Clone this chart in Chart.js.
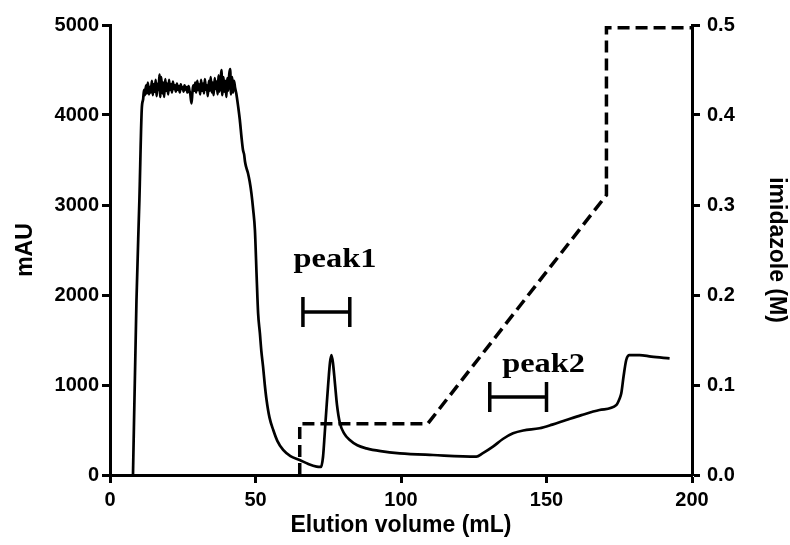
<!DOCTYPE html>
<html>
<head>
<meta charset="utf-8">
<script src="https://cdn.jsdelivr.net/npm/chart.js@4.4.1/dist/chart.umd.min.js"></script>
<style>
  body { margin: 0; background: #fff; }
  canvas { display: block; }
</style>
</head>
<body>
<canvas id="chart-area" width="790" height="545"></canvas>
<script>
// UV absorbance trace (mL, mAU)
const uvVolume = [
  7.9, 9.1, 10.1, 10.9,
  11.4, 11.7, 12.0, 12.4, 12.7, 13.0, 13.4, 13.7, 14.0, 14.4, 14.7, 15.0, 15.4, 15.7, 16.0, 16.4,
  16.7, 17.0, 17.3, 17.6, 18.0, 18.3, 18.6, 19.0, 19.3, 19.6, 20.0, 20.3, 20.6, 21.0, 21.3, 21.6,
  22.0, 22.3, 22.6, 23.0, 23.3, 23.6, 24.0, 24.3, 24.6, 25.0, 25.3, 25.6, 26.0, 26.3, 26.6, 27.0,
  27.3, 27.6, 28.0, 28.3, 28.6, 29.0, 29.3, 29.6, 30.0, 30.3, 30.6, 31.0, 31.3, 31.6, 32.0, 32.3,
  32.6, 33.0, 33.3, 33.6, 34.0, 34.3, 34.6, 35.0, 35.3, 35.6, 36.0, 36.3, 36.6, 37.0, 37.3, 37.6,
  38.0, 38.3, 38.6, 39.0, 39.3, 39.6, 40.0, 40.3, 40.6, 41.0, 41.3, 41.6, 42.0, 42.3, 42.6, 43.0,
  43.4,
  44.1, 44.6, 45.2, 45.7, 46.1, 46.4, 46.8, 47.4, 48.0,
  48.6, 49.2, 49.8, 50.4, 50.9, 51.5, 52.0, 52.6, 53.2, 53.8, 54.8, 56.1, 57.5, 59.5, 62.0, 65.2,
  68.0, 71.0, 72.5, 73.2, 73.8, 74.4, 75.0, 75.6, 76.1, 76.6, 77.3, 78.0, 79.0, 80.5, 82.4, 85.0,
  88.1, 93.0, 99.6, 111.0, 125.9, 128.0, 131.6, 135.0, 138.5, 142.0, 147.6, 152.0, 156.8, 162.0,
  168.2, 174.0, 175.0, 175.7, 176.5, 177.4, 178.5, 182.0, 186.0, 192.3
];
const uvAbsorbance = [
  0, 1944, 3056, 4056,
  4180, 4280, 4220, 4330, 4240, 4360, 4230, 4310, 4250, 4380, 4220, 4340, 4260, 4390, 4210, 4350,
  4280, 4450, 4200, 4420, 4240, 4360, 4200, 4400, 4270, 4350, 4230, 4390, 4280, 4340, 4250, 4370,
  4290, 4330, 4260, 4350, 4280, 4320, 4250, 4340, 4290, 4310, 4260, 4330, 4280, 4310, 4250, 4320,
  4270, 4230, 4130, 4240, 4330, 4270, 4360, 4250, 4380, 4280, 4340, 4230, 4390, 4270, 4350, 4240,
  4400, 4280, 4330, 4210, 4380, 4270, 4420, 4250, 4360, 4220, 4410, 4290, 4370, 4230, 4440, 4260,
  4380, 4500, 4220, 4420, 4260, 4380, 4200, 4410, 4270, 4460, 4510, 4230, 4420, 4250, 4380, 4300,
  4240,
  4080, 3950, 3750, 3611, 3560, 3480, 3420, 3356, 3260,
  3130, 2950, 2722, 2200, 1796, 1578, 1380, 1204, 1000, 833, 640, 500, 380, 278, 210, 167,
  125, 93, 90, 200, 467, 750, 1019, 1250, 1333, 1250, 1019, 780, 578, 460, 389, 330,
  296, 265, 241, 222, 204, 240, 315, 400, 463, 495, 519, 560, 611, 665,
  722, 778, 840, 907, 1100, 1278, 1333, 1333, 1315, 1296
];

// imidazole step gradient (mL, M)
const gradientVolume = [65.2, 65.2, 109.2, 170.6, 170.6, 200];
const gradientImidazole = [0, 0.057, 0.057, 0.311, 0.497, 0.497];

// collected fractions: [from mL, to mL, level mAU]
const peak1Range = [66.3, 82.4, 1811];
const peak2Range = [130.5, 150.0, 867];
const peakLabels = ['peak1', 'peak2'];
const peakLabelAt = [[77.3, 2311], [149.0, 1144]];

const xTicks = [0, 50, 100, 150, 200];
const mauTicks = [0, 1000, 2000, 3000, 4000, 5000];
const imidazoleTicks = [0, 0.1, 0.2, 0.3, 0.4, 0.5];

const toPoints = (xs, ys) => xs.map((x, i) => ({x: x, y: ys[i]}));

// a fraction bar with end caps, drawn as one open path
const capHalf = 167;
const bracket = r => [
  {x: r[0], y: r[2] - capHalf}, {x: r[0], y: r[2] + capHalf}, {x: r[0], y: r[2]},
  {x: r[1], y: r[2]}, {x: r[1], y: r[2] + capHalf}, {x: r[1], y: r[2] - capHalf}
];

const tickFont = {family: 'Liberation Sans, Arial', size: 20, weight: 'bold'};
const titleFont = {family: 'Liberation Sans, Arial', size: 23, weight: 'bold'};

const axisCommon = {
  border: {display: true, color: '#000', width: 3},
  grid: {display: true, drawOnChartArea: false, drawTicks: true, tickLength: 8, tickWidth: 3, tickColor: '#000'},
};

const peakText = {
  id: 'peakText',
  afterDatasetsDraw(chart) {
    const ctx = chart.ctx;
    const xs = chart.scales.x, ys = chart.scales.y;
    ctx.save();
    ctx.fillStyle = '#000';
    ctx.font = 'bold 27px "Liberation Serif", "Times New Roman", serif';
    ctx.textAlign = 'center';
    ctx.textBaseline = 'alphabetic';
    peakLabels.forEach((t, i) => {
      const px = xs.getPixelForValue(peakLabelAt[i][0]);
      const py = ys.getPixelForValue(peakLabelAt[i][1]);
      ctx.save();
      ctx.translate(px, py);
      ctx.scale(1.2, 1);
      ctx.fillText(t, 0, 0);
      ctx.restore();
    });
    ctx.restore();
  }
};

window.onload = function() {
  let ctx = document.getElementById('chart-area').getContext('2d');
  new Chart(ctx, {
    type: 'line',
    data: {
      datasets: [
        {
          data: toPoints(uvVolume, uvAbsorbance),
          yAxisID: 'y',
          borderColor: '#000',
          borderWidth: 2.7,
          pointRadius: 0,
          cubicInterpolationMode: 'monotone'
        },
        {
          data: toPoints(gradientVolume, gradientImidazole),
          yAxisID: 'y1',
          borderColor: '#000',
          borderWidth: 3.5,
          borderDash: [12, 6],
          pointRadius: 0,
          tension: 0,
          clip: false
        },
        {
          data: bracket(peak1Range),
          yAxisID: 'y',
          borderColor: '#000',
          borderWidth: 3.5,
          pointRadius: 0,
          tension: 0
        },
        {
          data: bracket(peak2Range),
          yAxisID: 'y',
          borderColor: '#000',
          borderWidth: 3.5,
          pointRadius: 0,
          tension: 0
        }
      ]
    },
    options: {
      responsive: false,
      animation: false,
      layout: {padding: {top: 25, left: 0, right: 0, bottom: 0}},
      plugins: {legend: {display: false}, tooltip: {enabled: false}},
      scales: {
        x: {
          type: 'linear',
          min: 0, max: 200,
          ...axisCommon,
          afterBuildTicks: s => { s.ticks = xTicks.map(v => ({value: v})); },
          afterFit: s => { s.height = 70; },
          ticks: {color: '#000', font: tickFont, padding: 5, maxRotation: 0, callback: v => String(v)},
          title: {display: true, text: 'Elution volume (mL)', color: '#000', font: titleFont, padding: {top: 0, bottom: 6}}
        },
        y: {
          position: 'left',
          min: 0, max: 5000,
          ...axisCommon,
          afterBuildTicks: s => { s.ticks = mauTicks.map(v => ({value: v})); },
          afterFit: s => { s.width = 110; },
          ticks: {color: '#000', font: tickFont, padding: 3, callback: v => String(v)},
          title: {display: true, text: 'mAU', color: '#000', font: titleFont, padding: {top: 12, bottom: 0}}
        },
        y1: {
          position: 'right',
          min: 0, max: 0.5,
          ...axisCommon,
          afterBuildTicks: s => { s.ticks = imidazoleTicks.map(v => ({value: v})); },
          afterFit: s => { s.width = 98; },
          ticks: {color: '#000', font: tickFont, padding: 7, callback: v => v.toFixed(1)},
          title: {display: true, text: 'imidazole (M)', color: '#000', font: titleFont, padding: {top: 0, bottom: 0}}
        }
      }
    },
    plugins: [peakText]
  });
};
</script>
</body>
</html>
